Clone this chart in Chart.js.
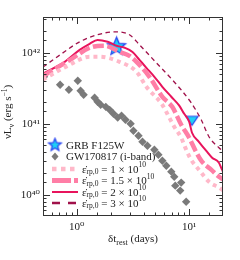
<!DOCTYPE html>
<html>
<head>
<meta charset="utf-8">
<script src="https://cdn.jsdelivr.net/npm/chart.js@4.4.1/dist/chart.umd.min.js"></script>
<style>
    html, body { margin: 0; padding: 0; background: #fff; }
</style>
</head>
<body>
<canvas id="lightCurve" width="240" height="260"></canvas>
<script>
/*global Chart, document*/

// GW170817 i-band (days, erg/s)
var gwT = [0.51, 0.71, 0.85, 1.02, 1.08, 1.15, 1.44, 1.53, 1.63, 1.81, 1.96, 2.12, 2.31, 2.50, 2.71, 3.01, 3.19, 3.54, 3.84, 4.25, 4.90, 5.32, 5.77, 6.26, 6.93, 7.36, 8.49, 7.52, 8.32, 9.40];
var gwL = [4.59e41, 3.54e41, 3.01e41, 4.04e41, 2.92e41, 2.56e41, 2.32e41, 2.04e41, 1.85e41, 1.73e41, 1.57e41, 1.38e41, 1.22e41, 1.30e41, 1.14e41, 1.0e41, 7.96e40, 6.77e40, 5.57e40, 4.90e40, 4.30e40, 3.66e40, 3.01e40, 2.56e40, 2.11e40, 1.79e40, 1.48e40, 1.34e40, 1.14e40, 7.96e39];

// GRB F125W detection and upper limit
var grbT = [2.26];
var grbL = [1.22e42];
var limT = [10.6];
var limL = [1.10e41];

// model curves, eps_rp,0 = 1, 1.5, 2, 3 x 10^10
var t1 = [0.5, 0.82, 1.30, 1.60, 2.40, 3.40, 4.16, 5.77, 6.65, 7.36, 8.49, 9.40, 10.4, 12.2, 15.0, 18.4, 20];
var L1 = [4.2e41, 6.5e41, 8.8e41, 8.8e41, 7.46e41, 5.4e41, 3.32e41, 1.85e41, 1.22e41, 9.07e40, 6.35e40, 4.3e40, 3.11e40, 2.25e40, 1.52e40, 1.26e40, 1.15e40];

var t15 = [0.5, 0.87, 1.39, 1.77, 2.40, 2.94, 3.40, 4.43, 5.77, 7.07, 8.49, 10.0, 11.5, 13.0, 15.7, 18.4, 20];
var L15 = [4.7e41, 7.96e41, 1.22e42, 1.26e42, 1.03e42, 9.07e41, 7.46e41, 4.59e41, 2.40e41, 1.73e41, 9.68e40, 6.35e40, 4.03e40, 2.92e40, 2.25e40, 1.79e40, 1.65e40];

var t2 = [0.5, 0.78, 1.06, 1.30, 1.53, 1.88, 2.26, 2.66, 3.13, 3.61, 4.16, 4.90, 5.77, 6.93, 8.16, 9.03, 10.0, 10.6, 12.2, 14.4, 16.0, 18.4, 19.6, 20];
var L2 = [5.1e41, 7.46e41, 1.10e42, 1.34e42, 1.52e42, 1.43e42, 1.26e42, 1.18e42, 1.03e42, 7.96e41, 6.15e41, 4.59e41, 3.32e41, 2.40e41, 1.80e41, 1.38e41, 1.07e41, 7.46e40, 5.57e40, 4.03e40, 3.32e40, 2.82e40, 2.25e40, 2.1e40];

var t3 = [0.5, 0.71, 1.06, 1.53, 2.17, 2.94, 3.61, 5.10, 7.07, 10.4, 12.8, 15.0, 18.4, 20];
var L3 = [6.3e41, 9.37e41, 1.43e42, 1.80e42, 1.98e42, 1.80e42, 1.30e42, 7.23e41, 4.17e41, 1.98e41, 1.14e41, 6.56e40, 4.59e40, 4.1e40];

var legendLabels = ['GRB F125W', 'GW170817 (i-band)', '1', '1.5', '2', '3'];

// colours
var cDot = '#ffb8c9';
var cThick = '#ff7ea6';
var cSolid = '#e8145c';
var cDark = '#a0114a';
var cGrey = '#7a7a7a';
var cCyan = '#1fd0f5';
var cBlue = '#2a45f0';
var serif = '"Liberation Serif", "DejaVu Serif", serif';

function pts(xs, ys) {
    return xs.map(function (x, i) { return {x: x, y: ys[i]}; });
}

function makeStar(r) {
    var s = Math.ceil(2 * r + 4);
    var c = document.createElement('canvas');
    c.width = s;
    c.height = s;
    var g = c.getContext('2d');
    g.beginPath();
    for (var i = 0; i < 10; i++) {
        var rad = (i % 2) ? r * 0.45 : r;
        var a = -Math.PI / 2 + i * Math.PI / 5;
        g.lineTo(s / 2 + rad * Math.cos(a), s / 2 + rad * Math.sin(a));
    }
    g.closePath();
    g.fillStyle = cCyan;
    g.fill();
    g.lineWidth = 1.3;
    g.strokeStyle = cBlue;
    g.stroke();
    return c;
}

function makeTriangle(w, h) {
    var c = document.createElement('canvas');
    c.width = w + 4;
    c.height = h + 4;
    var g = c.getContext('2d');
    g.beginPath();
    g.moveTo(2, 2);
    g.lineTo(w + 2, 2);
    g.lineTo(w / 2 + 2, h + 2);
    g.closePath();
    g.fillStyle = cCyan;
    g.fill();
    g.lineWidth = 1.2;
    g.strokeStyle = cBlue;
    g.stroke();
    return c;
}

var SUP = {'0': '\u2070', '1': '\u00b9', '2': '\u00b2', '3': '\u00b3', '4': '\u2074', '5': '\u2075', '6': '\u2076', '7': '\u2077', '8': '\u2078', '9': '\u2079', '-': '\u207b'};
function logLabel(value) {
    var e = Math.log10(value);
    if (Math.abs(e - Math.round(e)) > 1e-6) {
        return '';
    }
    return '10' + String(Math.round(e)).split('').map(function (ch) { return SUP[ch]; }).join('');
}

// draw a run of text pieces [text, size, dy]
function drawRuns(ctx, x, y, runs) {
    runs.forEach(function (r) {
        ctx.font = r[1] + 'px ' + serif;
        ctx.fillText(r[0], x, y + r[2]);
        x += ctx.measureText(r[0]).width;
    });
}
function runsWidth(ctx, runs) {
    var w = 0;
    runs.forEach(function (r) {
        ctx.font = r[1] + 'px ' + serif;
        w += ctx.measureText(r[0]).width;
    });
    return w;
}

var frame = {
    id: 'frame',
    afterDraw: function (chart) {
        var ctx = chart.ctx;
        var a = chart.chartArea;
        var xs = chart.scales.x;
        var ys = chart.scales.y;
        ctx.save();
        ctx.strokeStyle = '#333';
        ctx.lineWidth = 1;
        ctx.strokeRect(a.left + 0.5, a.top + 0.5, a.right - a.left - 1, a.bottom - a.top - 1);

        // inward ticks on all four sides
        ctx.beginPath();
        xs.ticks.forEach(function (t) {
            var px = Math.round(xs.getPixelForValue(t.value)) + 0.5;
            if (px < a.left + 1 || px > a.right - 1) { return; }
            var len = logLabel(t.value) ? 7 : 3.5;
            ctx.moveTo(px, a.bottom);
            ctx.lineTo(px, a.bottom - len);
            ctx.moveTo(px, a.top);
            ctx.lineTo(px, a.top + len);
        });
        ys.ticks.forEach(function (t) {
            var py = Math.round(ys.getPixelForValue(t.value)) + 0.5;
            if (py < a.top + 1 || py > a.bottom - 1) { return; }
            var len = logLabel(t.value) ? 7 : 3.5;
            ctx.moveTo(a.left, py);
            ctx.lineTo(a.left + len, py);
            ctx.moveTo(a.right, py);
            ctx.lineTo(a.right - len, py);
        });
        ctx.stroke();

        // axis titles
        ctx.fillStyle = '#222';
        ctx.textBaseline = 'alphabetic';
        var xr = [['\u03b4t', 11, 0], ['rest', 8, 3], [' (days)', 11, 0]];
        drawRuns(ctx, (a.left + a.right) / 2 - runsWidth(ctx, xr) / 2, 242, xr);

        var yr = [['\u03bdL', 11, 0], ['\u03bd', 8, 3], [' (erg s', 11, 0], ['\u22121', 7.5, -4.5], [')', 11, 0]];
        ctx.translate(11, 112);
        ctx.rotate(-Math.PI / 2);
        drawRuns(ctx, -runsWidth(ctx, yr) / 2, 0, yr);
        ctx.restore();

        // legend
        ctx.save();
        ctx.fillStyle = '#222';
        ctx.textBaseline = 'middle';
        var star = makeStar(6.5);
        ctx.drawImage(star, 55 - star.width / 2, 145 - star.height / 2);
        ctx.font = '11px ' + serif;
        ctx.fillText(legendLabels[0], 66, 146);

        ctx.beginPath();
        ctx.moveTo(55, 152.5);
        ctx.lineTo(58.5, 156.5);
        ctx.lineTo(55, 160.5);
        ctx.lineTo(51.5, 156.5);
        ctx.closePath();
        ctx.fillStyle = cGrey;
        ctx.fill();
        ctx.fillStyle = '#222';
        ctx.fillText(legendLabels[1], 66, 157);

        var rows = [
            {y: 169, color: cDot, width: 4.5, dash: [4.5, 4.5]},
            {y: 180.5, color: cThick, width: 5, dash: [19, 3]},
            {y: 192, color: cSolid, width: 2, dash: []},
            {y: 203, color: cDark, width: 2.5, dash: [8, 8]}
        ];
        rows.forEach(function (r, i) {
            ctx.beginPath();
            ctx.setLineDash(r.dash);
            ctx.lineCap = 'butt';
            ctx.strokeStyle = r.color;
            ctx.lineWidth = r.width;
            ctx.moveTo(52, r.y);
            ctx.lineTo(78, r.y);
            ctx.stroke();
            ctx.setLineDash([]);
            drawRuns(ctx, 82, r.y + 1, [
                ['\u03b5\u0307', 11, 0],
                ['rp,0', 7.5, 2.5],
                [' = ' + legendLabels[i + 2] + ' \u00d7 10', 11, 0],
                ['10', 7.5, -4.5]
            ]);
        });
        ctx.restore();
    }
};

var lineDefaults = {pointRadius: 0, fill: false, borderCapStyle: 'butt', cubicInterpolationMode: 'monotone'};

new Chart(document.getElementById('lightCurve'), {
    type: 'scatter',
    data: {
        datasets: [
            Object.assign({data: pts(t1, L1), showLine: true, borderColor: cDot, borderWidth: 4, borderDash: [4, 4]}, lineDefaults),
            Object.assign({data: pts(t15, L15), showLine: true, borderColor: cThick, borderWidth: 4.5, borderDash: [11, 3.5]}, lineDefaults),
            Object.assign({data: pts(t2, L2), showLine: true, borderColor: cSolid, borderWidth: 2}, lineDefaults),
            Object.assign({data: pts(t3, L3), showLine: true, borderColor: cDark, borderWidth: 1.3, borderDash: [4.5, 3.5]}, lineDefaults),
            {
                data: pts(gwT, gwL),
                pointStyle: 'rectRot',
                pointRadius: 4.2,
                backgroundColor: cGrey,
                borderColor: cGrey,
                borderWidth: 0
            },
            {
                data: pts(grbT, grbL),
                pointStyle: makeStar(9.5),
                pointRadius: 9.5
            },
            {
                data: pts(limT, limL),
                pointStyle: makeTriangle(12, 9),
                pointRadius: 6
            }
        ]
    },
    options: {
        responsive: false,
        animation: false,
        layout: {padding: {top: 17, right: 17, left: 0, bottom: 0}},
        plugins: {legend: {display: false}, tooltip: {enabled: false}},
        scales: {
            x: {
                type: 'logarithmic',
                min: 0.5,
                max: 20,
                grid: {display: false, drawTicks: false},
                border: {display: false},
                afterFit: function (scale) { scale.height = 44; },
                ticks: {
                    autoSkip: false,
                    maxRotation: 0,
                    padding: 5,
                    color: '#222',
                    font: {family: serif, size: 11},
                    callback: logLabel
                }
            },
            y: {
                type: 'logarithmic',
                min: 5e39,
                max: 3.2e42,
                grid: {display: false, drawTicks: false},
                border: {display: false},
                afterFit: function (scale) { scale.width = 43; },
                ticks: {
                    autoSkip: false,
                    padding: 3,
                    color: '#222',
                    font: {family: serif, size: 11},
                    callback: logLabel
                }
            }
        }
    },
    plugins: [frame]
});
</script>
</body>
</html>
